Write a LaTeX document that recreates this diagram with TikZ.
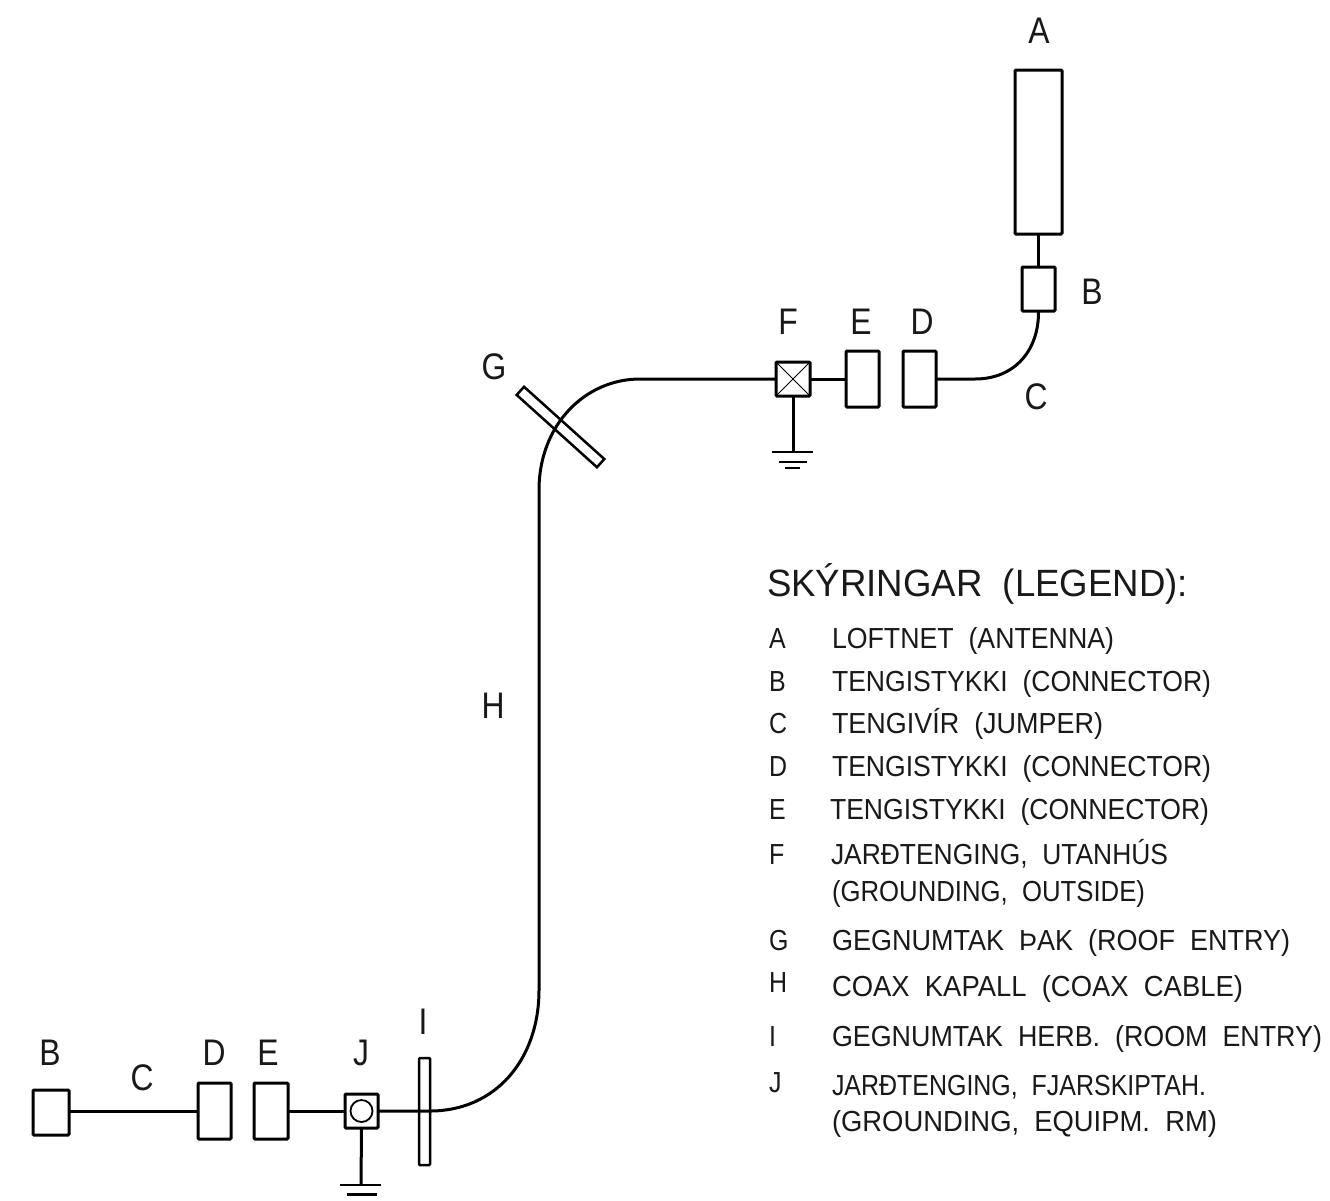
\documentclass[tikz,border=0pt]{standalone}
\usepackage{graphicx}
\usepackage{fontspec}
\setmainfont{Liberation Sans}
\tikzset{
  part/.style={draw=black,line width=3pt,fill=none,inner sep=0pt,outer sep=0pt,rounded corners=1pt,minimum width=#1},
  wire/.style={draw=black,line width=3pt},
  lab/.style={inner sep=0pt,outer sep=0pt,font=\fontsize{37}{40}\selectfont,text=black!90},
  leg/.style={inner sep=0pt,outer sep=0pt,anchor=base west,font=\fontsize{29}{34}\selectfont,text=black!90},
}
\newcommand{\legtext}[5]{\node[leg] (#1) at (#2,#3) {\resizebox{#4pt}{\height}{#5}};}
\newcommand{\nar}[1]{\scalebox{0.86}[1]{#1}}
\begin{document}
\begin{tikzpicture}[x=1pt,y=-1pt]
\useasboundingbox (0,0) rectangle (1330,1200);
\fill[white] (0,0) rectangle (1330,1200);
% upper assembly
\node[part=47pt,minimum height=164pt] (A1) at (1038.5,152) {};
\node[part=33pt,minimum height=44pt] (B1) at (1038.5,289) {};
\node[part=33pt,minimum height=56pt] (D1) at (919.5,379) {};
\node[part=33pt,minimum height=56pt] (E1) at (862.5,379) {};
\node[part=34pt,minimum height=34pt] (F1) at (793,379) {};
\draw[line width=1pt] (F1.north west) -- (F1.south east) (F1.north east) -- (F1.south west);
\coordinate (GF) at (793,452);
\draw[wire] (A1.south) -- (B1.north);
\draw[wire] (B1.south) .. controls (1039,350) and (1015,379) .. (975,379) -- (D1.east);
\draw[wire] (E1.west) -- (F1.east);
\draw[wire] (F1.south) -- (GF);
\draw[line width=2pt] ([xshift=-21pt]GF) -- ([xshift=20pt]GF);
\draw[line width=2.5pt] ([xshift=-14pt,yshift=-10pt]GF) -- ([xshift=14pt,yshift=-10pt]GF);
\draw[line width=2pt] ([xshift=-8pt,yshift=-16pt]GF) -- ([xshift=7pt,yshift=-16pt]GF);
% plates and lower assembly
\node[part=108pt,minimum height=11pt,rotate=-42,rounded corners=0pt,line width=2.5pt] (G1) at (560.5,427) {};
\node[part=11pt,minimum height=107pt,line width=2.5pt] (I1) at (424.5,1111.5) {};
\node[part=33pt,minimum height=34pt] (J1) at (361.5,1111) {};
\node[circle,draw=black,line width=1.8pt,minimum size=22pt,inner sep=0pt] (JC) at (361.5,1111) {};
\node[part=34pt,minimum height=56pt] (E2) at (271,1111) {};
\node[part=33pt,minimum height=56pt] (D2) at (214.5,1111) {};
\node[part=36pt,minimum height=45pt] (B2) at (51,1112.5) {};
\coordinate (GJ) at (361,1185);
\draw[wire] (B2.east |- D2.west) -- (D2.west);
\draw[wire] (E2.east) -- (J1.west);
\draw[wire] (J1.south) -- (GJ);
\draw[line width=2pt] ([xshift=-21pt]GJ) -- ([xshift=20pt]GJ);
\draw[line width=3pt] ([xshift=-14pt,yshift=-9pt]GJ) -- ([xshift=16pt,yshift=-9pt]GJ);
% coax cable through G and I
\coordinate (C1) at (640,379);
\coordinate (C2) at (539,490);
\coordinate (C3) at (539,990);
\draw[wire] (F1.west) -- (C1) .. controls (585,379) and (539,425) .. (C2) -- (C3)
  .. controls (539,1060) and (495,1111) .. (430,1111) -- (J1.east);
% diagram letters
\node[lab] (tA) at (1039,31) {\nar{A}};
\node[lab] (tB1) at (1092,292) {\nar{B}};
\node[lab] (tC1) at (1036,397) {\nar{C}};
\node[lab] (tF) at (788,322) {\nar{F}};
\node[lab] (tE1) at (861,322) {\nar{E}};
\node[lab] (tD1) at (922,322) {\nar{D}};
\node[lab] (tG) at (494,367) {\nar{G}};
\node[lab] (tH) at (493,706) {\nar{H}};
\node[lab] (tB2) at (50,1053) {\nar{B}};
\node[lab] (tC2) at (142,1078) {\nar{C}};
\node[lab] (tD2) at (214,1053) {\nar{D}};
\node[lab] (tE2) at (268,1053) {\nar{E}};
\node[lab] (tJ) at (361,1053) {\nar{J}};
\node[lab] (tI) at (423,1022) {\nar{I}};
% legend
\node[leg,font=\fontsize{38}{42}\selectfont] (title) at (767,596) {\resizebox{421pt}{\height}{SKÝRINGAR\ \ (LEGEND):}};
\foreach \n/\y/\l in {a/648/A,b/691/B,c/733/C,d/776/D,e/819/E,f/864/F,g/950/G,h/992/H,i/1046/I,j/1092/J}
  \node[leg] (k\n) at (769,\y) {\nar{\l}};
\legtext{l1}{832}{648}{282}{LOFTNET\ \ (ANTENNA)}
\legtext{l2}{832}{691}{379}{TENGISTYKKI\ \ (CONNECTOR)}
\legtext{l3}{832}{733}{271}{TENGIVÍR\ \ (JUMPER)}
\legtext{l4}{832}{776}{379}{TENGISTYKKI\ \ (CONNECTOR)}
\legtext{l5}{830}{819}{379}{TENGISTYKKI\ \ (CONNECTOR)}
\legtext{l6}{831}{864}{337}{JARÐTENGING,\ \ UTANHÚS}
\legtext{l7}{832}{901}{313}{(GROUNDING,\ \ OUTSIDE)}
\legtext{l8}{832}{950}{458}{GEGNUMTAK\ \ ÞAK\ \ (ROOF\ \ ENTRY)}
\legtext{l9}{832}{996}{411}{COAX\ \ KAPALL\ \ (COAX\ \ CABLE)}
\legtext{l10}{832}{1046}{490}{GEGNUMTAK\ \ HERB.\ \ (ROOM\ \ ENTRY)}
\legtext{l11}{832}{1095}{374}{JARÐTENGING,\ \ FJARSKIPTAH.}
\legtext{l12}{832}{1131}{385}{(GROUNDING,\ \ EQUIPM.\ \ RM)}
\end{tikzpicture}
\end{document}
